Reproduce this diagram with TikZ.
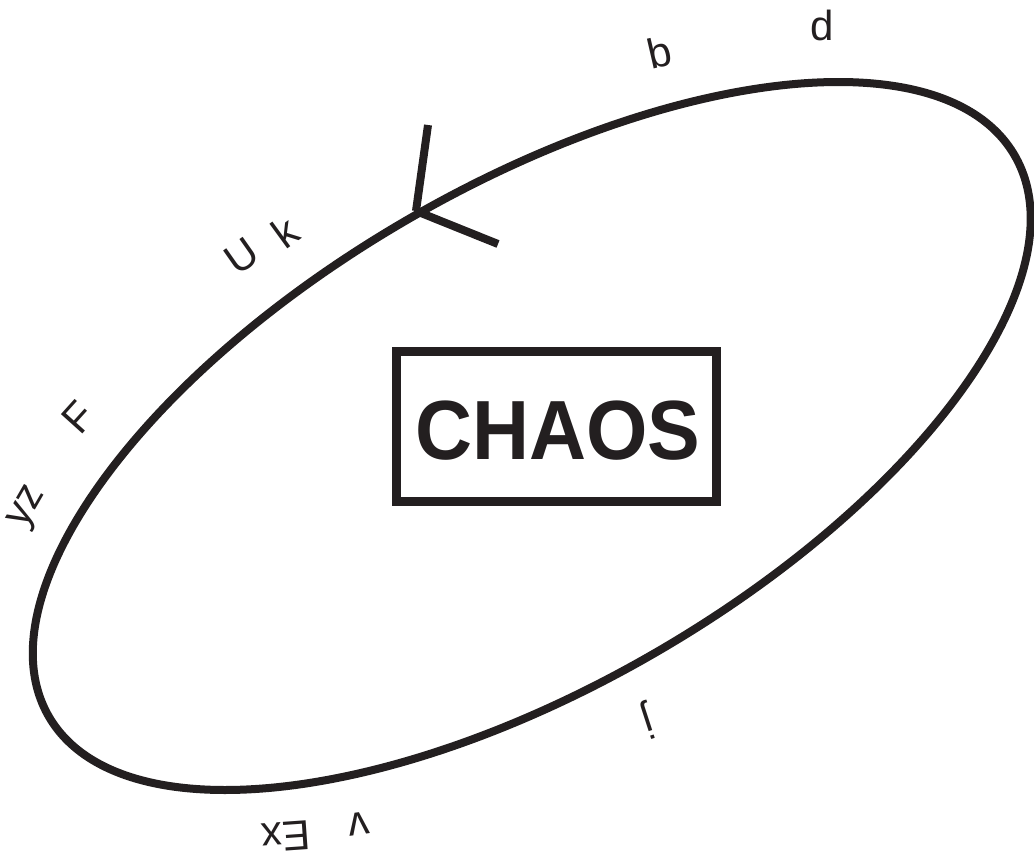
\documentclass[tikz,border=0pt]{standalone}
\usepackage{fontspec}
\setmainfont{Liberation Sans}
\usepackage{graphicx}
\definecolor{ink}{HTML}{231F20}
\begin{document}
\begin{tikzpicture}[x=1pt,y=-1pt,
  lbl/.style={font=\fontsize{42}{50}\selectfont, inner sep=0pt, text=ink},
  rim/.style={line width=8pt, draw=ink},
  fork/.style={line width=8pt, draw=ink},
  chaosbox/.style={draw=ink, line width=9pt, minimum width=320.5pt, minimum height=150pt, inner sep=0pt},
  chaostext/.style={font=\fontsize{84}{90}\selectfont\bfseries, text=ink, inner sep=0pt}]
\useasboundingbox (0,0) rectangle (1034,854);
% ellipse
\draw[rim, rotate around={30.17:(531.75,436)}] (531.75,436) ellipse [x radius=558.5pt, y radius=249.5pt];
% fork mark
\coordinate (fk) at (416,211);
\coordinate (fkup) at (428,125);
\coordinate (fkdn) at (498,244);
\draw[fork] (fk) -- (fkup);
\draw[fork] (fk) -- (fkdn);
% central box
\node[chaosbox] (box) at (556.25,426) {};
\node[chaostext] (chaos) at (558,431) {\scalebox{0.94}[1]{CHAOS}};
% letters
\node[lbl, rotate=0] (d) at (822,25) {d};
\node[lbl, rotate=13] (b) at (659,52) {b};
\node[lbl, rotate=35] (U) at (242,256) {U};
\node[lbl, rotate=36] (k) at (285,232) {k};
\node[lbl, rotate=48] (F) at (78,417) {F};
\node[lbl, rotate=60] (yz) at (29,508) {yz};
\node[lbl, rotate=198] (j) at (647,720) {j};
\node[lbl, rotate=188] (v) at (359,824) {v};
\node[lbl, rotate=184] (Ex) at (286,837) {Ex};
\end{tikzpicture}
\end{document}
